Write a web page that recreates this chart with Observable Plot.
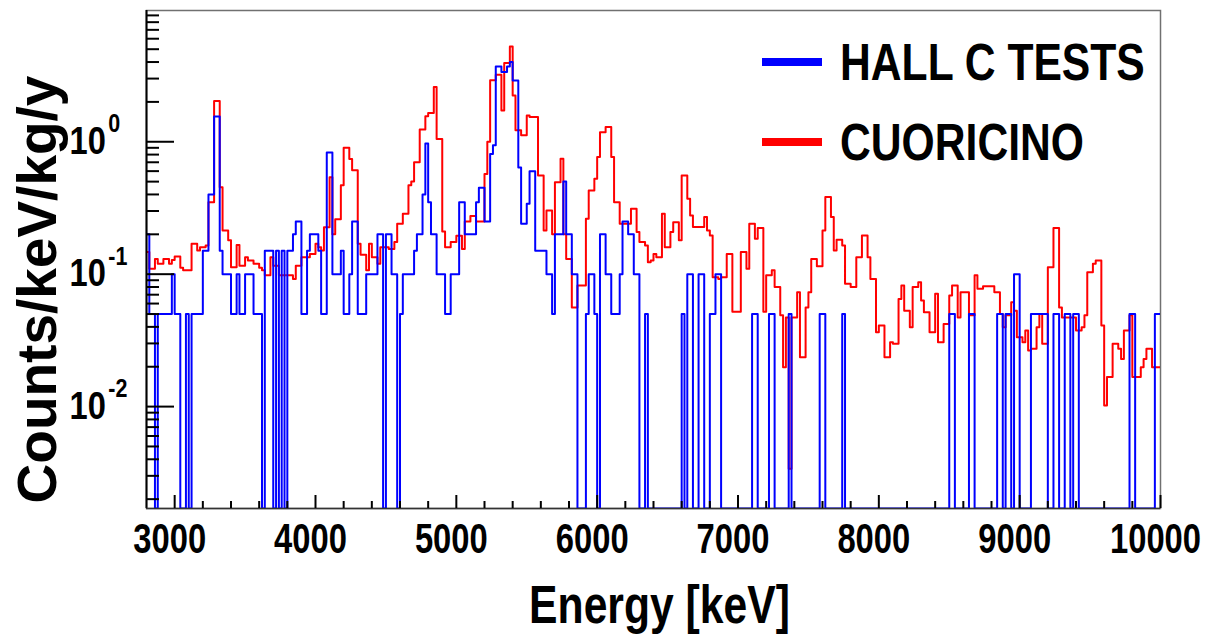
<!DOCTYPE html>
<html>
<head>
<meta charset="utf-8">
<script src="https://cdn.jsdelivr.net/npm/d3@7"></script>
<script src="https://cdn.jsdelivr.net/npm/@observablehq/plot@0.6"></script>
<style>
  html, body { margin: 0; padding: 0; background: #fff; }
  #chart { width: 1205px; height: 634px; }
</style>
</head>
<body>
<div id="chart"></div>
<script>
// ---- Data (bin low edges in keV, value in counts/keV/kg/y; step histogram, 20 keV bins, equal bins merged) ----
const redEnergy = [2800,2820,2860,2880,2920,2960,2980,3000,3040,3060,3120,3160,3180,3220,3240,3280,3320,3340,3380,3400,
  3440,3460,3500,3520,3560,3600,3620,3640,3680,3700,3740,3840,3860,3900,3960,4000,4020,4040,4060,4100,
  4120,4140,4180,4200,4240,4260,4300,4320,4360,4380,4400,4440,4460,4520,4560,4580,4620,4660,4680,4700,
  4740,4780,4800,4840,4860,4900,4920,4960,5000,5040,5060,5100,5140,5200,5220,5240,5280,5320,5340,5380,
  5400,5420,5460,5500,5520,5580,5620,5640,5680,5700,5740,5760,5780,5820,5860,5920,5940,5980,6000,6020,
  6060,6100,6120,6160,6240,6280,6300,6340,6360,6380,6400,6420,6460,6480,6520,6540,6580,6600,6640,6660,
  6680,6760,6780,6800,6820,6860,6880,6920,6960,7020,7060,7080,7120,7140,7180,7200,7240,7260,7300,7320,
  7340,7360,7380,7420,7440,7480,7500,7520,7560,7600,7620,7660,7680,7700,7740,7760,7800,7840,7880,7920,
  7940,7980,8000,8040,8080,8100,8140,8160,8180,8220,8240,8280,8300,8320,8360,8400,8420,8460,8500,8520,
  8560,8580,8640,8680,8700,8740,8820,8860,8880,8900,8940,8960,8980,9020,9040,9060,9080,9120,9140,9160,
  9200,9240,9280,9300,9400,9440,9460,9480,9520,9540,9580,9600,9620,9660,9700,9720,9740,9780,9800,9860,
  9880,9900,9940];
const redValue = [0.147,0.11,0.13,0.12,0.13,0.12,0.128,0.136,0.112,0.107,0.17,0.151,0.16,0.165,0.35,2.03,0.454,0.214,0.18,0.113,
  0.166,0.116,0.134,0.127,0.12,0.112,0.107,0.098,0.134,0.116,0.098,0.092,0.116,0.134,0.142,0.17,0.16,0.151,0.226,0.54,
  0.2,0.26,0.47,0.9,0.74,0.61,0.17,0.14,0.107,0.17,0.134,0.12,0.16,0.155,0.175,0.24,0.286,0.47,0.5,0.7,
  1.24,1.56,1.65,2.59,1.05,0.21,0.16,0.175,0.195,0.155,0.25,0.275,0.25,0.57,1.0,2.91,3.2,1.72,3.93,5.25,
  2.24,1.22,1.12,1.58,1.54,0.557,0.214,0.303,0.2,0.495,0.744,0.2,0.13,0.056,0.082,0.262,0.429,0.525,0.766,1.18,
  1.29,0.766,0.35,0.24,0.312,0.208,0.175,0.165,0.123,0.127,0.142,0.134,0.286,0.16,0.208,0.247,0.18,0.557,0.371,0.278,
  0.227,0.27,0.214,0.196,0.095,0.092,0.095,0.142,0.052,0.147,0.11,0.24,0.185,0.223,0.052,0.098,0.107,0.08,0.049,0.0198,
  0.047,0.0034,0.047,0.073,0.0236,0.056,0.073,0.13,0.115,0.214,0.382,0.27,0.151,0.182,0.165,0.0845,0.08,0.134,0.196,0.134,
  0.092,0.0365,0.041,0.0236,0.0306,0.0298,0.065,0.082,0.053,0.0398,0.08,0.087,0.0633,0.0516,0.0365,0.071,0.0306,0.042,0.069,0.082,
  0.047,0.073,0.049,0.098,0.0775,0.081,0.073,0.05,0.0398,0.049,0.0614,0.053,0.0334,0.0306,0.0375,0.0265,0.0273,0.0398,0.05,0.0298,
  0.113,0.223,0.056,0.047,0.0375,0.0398,0.049,0.1035,0.12,0.127,0.041,0.0102,0.0167,0.0298,0.0273,0.0229,0.0375,0.049,0.0167,0.0198,
  0.0229,0.0273,0.0198];

const blueEnergy = [2800,2820,2860,2880,2980,3000,3040,3080,3100,3120,3200,3240,3280,3320,3340,3400,3440,3460,3500,3560,
  3620,3640,3700,3720,3740,3760,3780,3800,3840,3860,3900,3940,3960,4020,4040,4080,4120,4180,4200,4240,
  4260,4300,4360,4440,4480,4500,4540,4580,4600,4620,4700,4720,4760,4780,4800,4820,4860,4920,4960,5020,
  5060,5140,5160,5200,5240,5260,5280,5320,5360,5380,5400,5440,5460,5500,5520,5560,5640,5680,5700,5760,
  5780,5820,5860,5920,5940,5980,6000,6020,6060,6100,6160,6180,6220,6260,6300,6340,6360,6600,6620,6640,
  6680,6720,6760,6800,6840,6880,7100,7140,7220,7260,7360,7380,7580,7620,7740,7760,8500,8540,8640,8680,
  8840,8880,8900,8940,8960,9000,9080,9200,9240,9280,9320,9360,9380,9420,9780,9820,9960];
const blueValue = [0.2,0.05,0,0.05,0.1,0.05,0,0.05,0,0.05,0.15,0.4,1.55,0.15,0.1,0.05,0.1,0.05,0.1,0.05,
  0,0.15,0,0.15,0,0.15,0,0.15,0.2,0.25,0.05,0.15,0.2,0.15,0.05,0.83,0.1,0.15,0.05,0.1,
  0.25,0.05,0.1,0.2,0,0.2,0.1,0,0.05,0.1,0.15,0.2,0.4,0.97,0.35,0.2,0.1,0.05,0.1,0.35,
  0.2,0.35,0.45,0.25,0.81,0.94,3.7,3.36,3.7,4.0,2.9,0.64,0.24,0.34,0.6,0.15,0.1,0.05,0.2,0.5,
  0.2,0.1,0,0.05,0.1,0.05,0,0.2,0.1,0.05,0.1,0.25,0.2,0.1,0,0.05,0,0.05,0,0.1,
  0,0.1,0,0.05,0.1,0,0.05,0,0.05,0,0.05,0,0.05,0,0.05,0,0.05,0,0.05,0,
  0.05,0,0.05,0,0.1,0,0.05,0,0.05,0,0.05,0,0.05,0,0.05,0,0.05];

const xRange = [2800, 10000];
const yRange = [0.0017, 9.8];
const xMajorTicks = [3000, 4000, 5000, 6000, 7000, 8000, 9000, 10000];
const xMinorTicks = d3.range(3200, 10000, 200).filter(d => d % 1000 !== 0);
const yMajorTicks = [0.01, 0.1, 1];
const yMajorExponents = ["-2", "-1", "0"];
const yMinorTicks = [0.002,0.003,0.004,0.005,0.006,0.007,0.008,0.009,
  0.02,0.03,0.04,0.05,0.06,0.07,0.08,0.09,0.2,0.3,0.4,0.5,0.6,0.7,0.8,0.9,2,3,4,5,6,7,8,9];
const seriesNames = ["HALL C TESTS", "CUORICINO"];
const seriesColors = ["#0000ff", "#ff0000"];
const xTitle = "Energy [keV]";
const yTitle = "Counts/keV/kg/y";

// ---- Build step tables ----
function steps(E, V) {
  const pts = E.map((e, i) => ({e, v: V[i] > 0 ? V[i] : yRange[0]}));
  pts.push({e: xRange[1], v: pts[pts.length - 1].v});
  return pts;
}
const redPts = steps(redEnergy, redValue);
const bluePts = steps(blueEnergy, blueValue);

const W = 1205, H = 634, ML = 146, MR = 45, MT = 10, MB = 126;
const FW = W - ML - MR, FH = H - MT - MB;
const FONT = "'Liberation Sans', Arial, Helvetica, sans-serif";

const chart = Plot.plot({
  width: W, height: H,
  marginLeft: ML, marginRight: MR, marginTop: MT, marginBottom: MB,
  style: {fontFamily: FONT, background: "#fff"},
  x: {domain: xRange},
  y: {type: "log", domain: yRange},
  marks: [
    Plot.frame({stroke: "#707070", strokeWidth: 1.5}),
    Plot.line(redPts, {x: "e", y: "v", curve: "step-after", stroke: seriesColors[1], strokeWidth: 2, clip: true}),
    Plot.line(bluePts, {x: "e", y: "v", curve: "step-after", stroke: seriesColors[0], strokeWidth: 2, clip: true}),
    Plot.ruleX([xRange[0]], {stroke: "#000", strokeWidth: 2}),
    Plot.ruleY([yRange[0]], {stroke: "#333", strokeWidth: 1.5}),
    Plot.tickY(yMajorTicks, {y: d => d, insetRight: FW - 28, stroke: "#000", strokeWidth: 2}),
    Plot.tickY(yMinorTicks, {y: d => d, insetRight: FW - 13, stroke: "#000", strokeWidth: 2}),
    Plot.tickX(xMajorTicks, {x: d => d, insetTop: FH - 13, stroke: "#000", strokeWidth: 2}),
    Plot.tickX(xMinorTicks, {x: d => d, insetTop: FH - 7, stroke: "#000", strokeWidth: 2}),
    Plot.axisX({ticks: xMajorTicks, tickSize: 0, tickPadding: 15, dx: -5, tickFormat: d => String(d),
      fontSize: 42, fontWeight: "bold", label: null}),
    Plot.axisY({ticks: yMajorTicks, tickSize: 0, tickPadding: 77, textAnchor: "start",
      tickFormat: () => "10", fontSize: 38, fontWeight: "bold", label: null}),
    Plot.text([xTitle], {text: d => d, frameAnchor: "bottom", dx: 6, dy: 76, lineAnchor: "top",
      textAnchor: "middle", fontSize: 54, fontWeight: "bold", fill: "#000"}),
    Plot.text([yTitle], {text: d => d, frameAnchor: "left", rotate: -90, dx: -108, dy: 30,
      textAnchor: "middle", lineAnchor: "middle", fontSize: 55, fontWeight: "bold", fill: "#000"})
  ]
});
document.getElementById("chart").appendChild(chart);

const svg = d3.select(chart);
const yScale = chart.scale("y");

// horizontally narrow a text element about its own anchor point (ROOT's condensed look);
// y attributes (possibly in em) are untouched since the vertical scale stays 1
function squeeze(sel, f) {
  sel.each(function () {
    const x = parseFloat(this.getAttribute("x")) || 0;
    const tr = this.getAttribute("transform") || "";
    if (x) {
      this.setAttribute("x", 0);
      this.setAttribute("transform", `${tr} translate(${x},0) scale(${f},1)`.trim());
    } else {
      this.setAttribute("transform", `${tr} scale(${f},1)`.trim());
    }
  });
}

// y tick labels "10" (narrowed) with separate superscript exponents
const yLabelSel = svg.selectAll('g[aria-label="y-axis tick label"] text');
const baseWidths = [];
yLabelSel.each(function () { baseWidths.push(this.getComputedTextLength() * 0.86); });
squeeze(yLabelSel, 0.86);
const expG = svg.append("g").attr("font-family", FONT).attr("font-weight", "bold")
  .attr("font-size", 25).attr("text-anchor", "start").attr("fill", "#000");
yMajorTicks.forEach((v, i) => {
  const yPix = yScale.apply(v);
  const w = baseWidths[i] || 36;
  const t = expG.append("text")
    .attr("x", ML - 77 + w + 3)
    .attr("y", yPix + 0.32 * 38 - 21)
    .text(yMajorExponents[i]);
  squeeze(t, 0.86);
});

squeeze(svg.selectAll('g[aria-label="x-axis tick label"] text'), 0.78);
svg.selectAll('g[aria-label="text"] text').each(function () {
  if (d3.select(this).text() === xTitle) squeeze(d3.select(this), 0.79);
});

// legend (inside frame, top right)
const leg = svg.append("g").attr("font-family", FONT).attr("font-weight", "bold")
  .attr("font-size", 52).attr("text-anchor", "start");
seriesNames.forEach((name, i) => {
  const cy = 62 + i * 80;
  leg.append("line").attr("x1", 762).attr("x2", 822).attr("y1", cy).attr("y2", cy)
    .attr("stroke", seriesColors[i]).attr("stroke-width", 8);
  leg.append("text").attr("x", 840).attr("y", cy + 18).attr("fill", "#000").text(name);
});
squeeze(leg.selectAll("text"), 0.82);
</script>
</body>
</html>
